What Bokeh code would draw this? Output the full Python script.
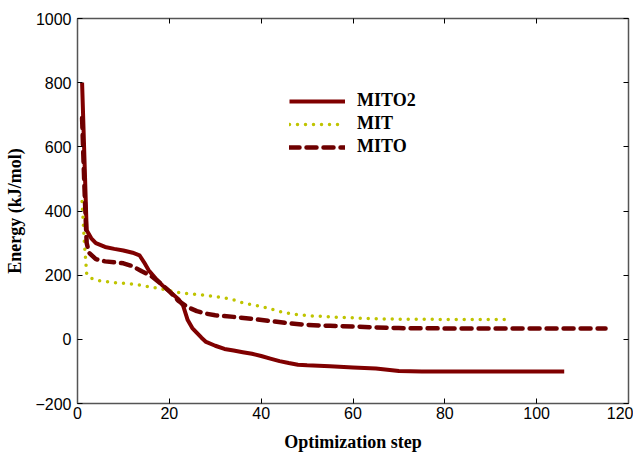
from bokeh.plotting import figure
from bokeh.models import Range1d, FixedTicker, LinearAxis, Legend, LegendItem
from bokeh.embed import file_html
from bokeh.resources import INLINE

# ---- data ----
mito2_step = [1, 2, 3, 4, 6, 8, 10, 12, 13.5, 14.5, 15.5, 17, 18.5, 20, 22, 23, 24, 25, 26, 27, 28,
              30, 32, 34, 36, 38, 40, 42, 44, 46, 48, 50, 55, 60, 65, 70, 75, 80, 90, 100, 106]
mito2_E = [800, 340, 315, 300, 288, 282, 277, 270, 262, 240, 215, 190, 168, 150, 125, 105, 60, 35, 20, 5, -8,
           -20, -30, -35, -40, -45, -52, -60, -68, -74, -79, -81, -84, -88, -91, -99, -100, -100, -100, -100, -100]

mit_step = [1, 1.5, 2, 2.5, 4, 6, 8, 10, 12, 14, 16, 18, 20, 22, 24, 26, 28, 30, 32, 34, 36, 38, 40,
            42, 44, 46, 48, 50, 55, 60, 65, 70, 80, 90, 94]
mit_E = [430, 300, 205, 193, 185, 180, 177, 175, 172, 168, 163, 158, 152, 146, 142, 140, 137, 133, 129,
         123, 114, 108, 103, 95, 87, 81, 77, 74, 70, 67, 64, 63, 62, 62, 62]

mito_step = [1, 1.3, 1.6, 2, 2.5, 4, 6, 8, 10, 12, 14, 16, 18, 20, 22, 24, 26, 28, 30, 34, 38, 42, 46,
             50, 55, 60, 65, 70, 80, 90, 100, 115]
mito_E = [690, 560, 440, 300, 270, 250, 243, 240, 237, 228, 212, 198, 175, 150, 120, 100, 88, 80, 75, 70,
          64, 57, 50, 45, 42, 40, 37, 35, 34, 34, 34, 34]

x_ticks = [0, 20, 40, 60, 80, 100, 120]
y_ticks = [-200, 0, 200, 400, 600, 800, 1000]

SERIF = "Liberation Serif"
SANS = "Liberation Sans"

p = figure(frame_width=551, frame_height=385, output_backend="svg", toolbar_location=None,
           x_range=Range1d(0, 120), y_range=Range1d(-200, 1000),
           min_border_left=77, min_border_right=5, min_border_top=18, min_border_bottom=42)
p.grid.visible = False
p.outline_line_color = "#555555"
p.background_fill_color = "white"
p.border_fill_color = "white"

for ax in [p.xaxis[0], p.yaxis[0]]:
    ax.major_tick_in = 5
    ax.major_tick_out = 0
    ax.minor_tick_line_color = None
    ax.axis_line_color = "#555555"
    ax.axis_line_width = 1.5
    ax.major_tick_line_color = "black"
    ax.major_label_text_font = SANS
    ax.major_label_text_font_size = "16px"
    ax.major_label_text_color = "black"
    ax.axis_label_text_font = SERIF
    ax.axis_label_text_font_style = "bold"
    ax.axis_label_text_font_size = "18px"
    ax.axis_label_text_color = "black"

p.xaxis.ticker = FixedTicker(ticks=x_ticks)
p.yaxis.ticker = FixedTicker(ticks=y_ticks)
p.xaxis.axis_label = "Optimization step"
p.yaxis.axis_label = "Energy (kJ/mol)"
p.xaxis.major_label_standoff = 3
p.yaxis.major_label_standoff = 6
p.xaxis.axis_label_standoff = 10
p.yaxis.axis_label_standoff = 7

top = LinearAxis(ticker=FixedTicker(ticks=x_ticks), major_tick_in=5, major_tick_out=0,
                 minor_tick_line_color=None, major_label_overrides={t: "" for t in x_ticks},
                 major_label_standoff=0, axis_line_color="#555555", axis_line_width=1.5)
right = LinearAxis(ticker=FixedTicker(ticks=y_ticks), major_tick_in=5, major_tick_out=0,
                   minor_tick_line_color=None, major_label_overrides={t: "" for t in y_ticks},
                   major_label_standoff=0, axis_line_color="#555555", axis_line_width=1.5)
p.add_layout(top, "above")
p.add_layout(right, "right")

r1 = p.line(mito2_step, mito2_E, line_color="#800000", line_width=4, line_join="round")
r2 = p.line(mit_step, mit_E, line_color="#bfc400", line_width=3.5, line_dash="0 8",
            line_cap="round", line_join="round")
r3 = p.line(mito_step, mito_E, line_color="#6e0000", line_width=4.5, line_dash="10 7",
            line_cap="round", line_join="round")

legend = Legend(items=[LegendItem(label="MITO2", renderers=[r1]),
                       LegendItem(label="MIT", renderers=[r2]),
                       LegendItem(label="MITO", renderers=[r3])],
                location=(212, 246), padding=0, margin=0, spacing=2,
                glyph_width=56, glyph_height=20, label_height=20, label_standoff=12,
                label_text_font=SERIF, label_text_font_style="bold", label_text_font_size="18px",
                label_text_color="black", border_line_color=None, background_fill_alpha=0)
p.add_layout(legend, "center")

open("out.html", "w").write(file_html(p, INLINE))
